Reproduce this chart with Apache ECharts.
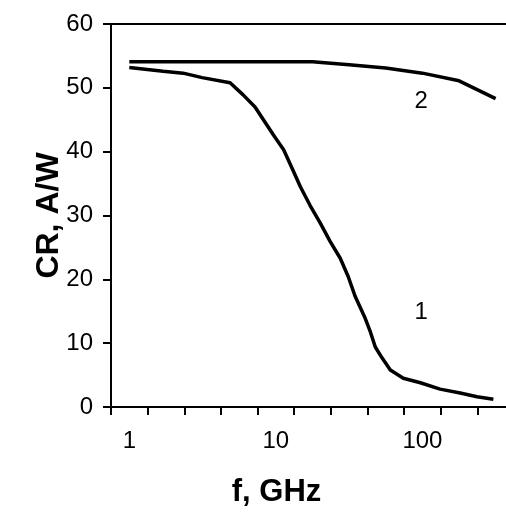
<!DOCTYPE html>
<html>
<head>
<meta charset="utf-8">
<script src="https://cdn.jsdelivr.net/npm/echarts@6/dist/echarts.min.js"></script>
<style>
  html, body { margin: 0; padding: 0; background: #fff; }
  #chart { width: 506px; height: 512px; }
</style>
</head>
<body>
<div id="chart"></div>
<script>
// tick labels of the bottom axis (quarter-decade categories)
const tickLabels = ['1', '', '', '', '10', '', '', '', '100', '', ''];

// curve 1
const freq1 = [1, 1.7, 2.33, 3.14, 4.87, 5.98, 7.21, 9.63, 11.3, 12.9, 14.7, 17.1, 20.1, 23.5, 27.5, 31.2, 34.8, 40.7, 44.1, 47.7, 53, 60.4, 74.1, 96.9, 132, 181, 236, 305];
const cr1 = [53.2, 52.6, 52.3, 51.6, 50.8, 48.9, 47.0, 42.6, 40.3, 37.4, 34.5, 31.6, 28.8, 25.9, 23.3, 20.4, 17.3, 13.9, 11.8, 9.4, 7.7, 5.8, 4.5, 3.8, 2.8, 2.2, 1.6, 1.2];

// curve 2
const freq2 = [1, 1.78, 3.16, 5.62, 10, 17.8, 31.6, 56.2, 100, 178, 316];
const cr2 = [54.1, 54.1, 54.1, 54.1, 54.1, 54.1, 53.6, 53.1, 52.3, 51.1, 48.3];

// curve numbers
const curveNames = ['1', '2'];
const nameFreq = [98, 98];
const nameCr = [14.8, 47.9];

const font = 'Liberation Sans, Arial, sans-serif';

let chart = echarts.init(document.getElementById('chart'));

let option = {
    backgroundColor: '#fff',
    animation: false,
    grid: {
        left: 111, top: 24, width: 403, height: 383,
        outerBoundsMode: 'none'
    },
    xAxis: [
        {
            type: 'category',
            position: 'bottom',
            data: tickLabels,
            boundaryGap: true,
            axisLine: { lineStyle: { color: '#000', width: 2 } },
            axisTick: { show: true, interval: 0, length: 8, lineStyle: { color: '#000', width: 2 } },
            axisLabel: { interval: 0, margin: 22, fontSize: 24, color: '#000', fontFamily: font },
            splitLine: { show: false },
            name: 'f, GHz',
            nameLocation: 'middle',
            nameGap: 70,
            nameMoveOverlap: false,
            nameTextStyle: {
                fontSize: 31, fontWeight: 'bold', color: '#000', fontFamily: font,
                padding: [0, 72, 0, 0]
            }
        },
        {
            type: 'log',
            position: 'top',
            logBase: 10,
            min: 0.75,
            max: 421.7,
            axisLine: { show: true, lineStyle: { color: '#000', width: 2 } },
            axisTick: { show: false },
            axisLabel: { show: false },
            splitLine: { show: false },
            minorTick: { show: false },
            minorSplitLine: { show: false }
        }
    ],
    yAxis: {
        type: 'value',
        min: 0,
        max: 60,
        interval: 10,
        axisLine: { show: true, lineStyle: { color: '#000', width: 2 } },
        axisTick: { show: true, length: 8, lineStyle: { color: '#000', width: 2 } },
        axisLabel: { margin: 18, fontSize: 24, color: '#000', fontFamily: font },
        splitLine: { show: false },
        name: 'CR, A/W',
        nameLocation: 'middle',
        nameGap: 46,
        nameMoveOverlap: false,
        nameTextStyle: { fontSize: 32, fontWeight: 'bold', color: '#000', fontFamily: font }
    },
    series: [
        {
            name: 'curve 1',
            type: 'line',
            xAxisIndex: 1,
            data: freq1.map((f, i) => [f, cr1[i]]),
            showSymbol: false,
            lineStyle: { color: '#000', width: 3.5 }
        },
        {
            name: 'curve 2',
            type: 'line',
            xAxisIndex: 1,
            data: freq2.map((f, i) => [f, cr2[i]]),
            showSymbol: false,
            lineStyle: { color: '#000', width: 3.5 }
        },
        {
            name: 'curve names',
            type: 'scatter',
            xAxisIndex: 1,
            symbolSize: 0,
            itemStyle: { opacity: 1 },
            data: curveNames.map((n, i) => ({ value: [nameFreq[i], nameCr[i]], name: n })),
            label: {
                show: true,
                position: 'inside',
                formatter: '{b}',
                fontSize: 24,
                color: '#000',
                textBorderWidth: 0,
                fontFamily: font
            }
        }
    ]
};

chart.setOption(option);
</script>
</body>
</html>
